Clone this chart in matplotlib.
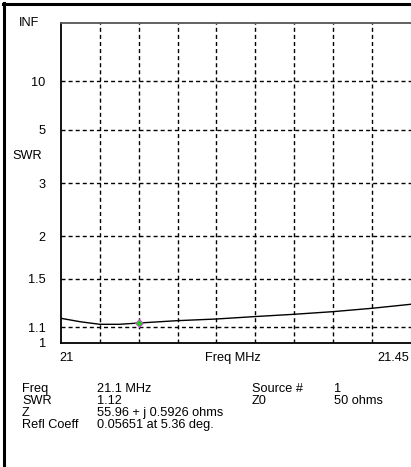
import numpy as np
import matplotlib
matplotlib.use("Agg")
import matplotlib.pyplot as plt
from matplotlib.lines import Line2D

plt.rcParams["font.family"] = ["Liberation Sans", "DejaVu Sans"]
plt.rcParams["font.size"] = 9.2

# 掃頻資料 (MHz, SWR)
freq = [21.0, 21.025, 21.05, 21.075, 21.1, 21.15, 21.2, 21.25, 21.3, 21.35, 21.4, 21.45]
swr = [1.164, 1.139, 1.121, 1.121, 1.13, 1.147, 1.159, 1.177, 1.194, 1.214, 1.240, 1.272]

marker_freq = 21.1
marker_swr = 1.13

swr_ticks = [1, 1.1, 1.5, 2, 3, 5, 10]
swr_tick_labels = ["1", "1.1", "1.5", "2", "3", "5", "10"]
freq_grid = [21.05, 21.1, 21.15, 21.2, 21.25, 21.3, 21.35, 21.4]

info_rows = [("Freq", "21.1 MHz"), ("SWR", "1.12"), ("Z", "55.96 + j 0.5926 ohms"),
             ("Refl Coeff", "0.05651 at 5.36 deg.")]
info_right = [("Source #", "1"), ("Z0", "50 ohms")]


# SWR 軸用反射係數刻度
def rho(s):
    s = np.asarray(s, dtype=float)
    return (s - 1) / (s + 1)


W, H = 411, 467
fig = plt.figure(figsize=(W / 100, H / 100), dpi=100)
ax = fig.add_axes([61 / W, (H - 342.5) / H, (410.5 - 61) / W, 319 / H])

ax.plot(freq, rho(swr), color="black", lw=1.0, zorder=3)
ax.plot([marker_freq], rho([marker_swr]), marker="D", ms=4.5, mfc="#22cc22", mec="#ee33ee",
        mew=0.6, ls="none", zorder=4)

dash = (0, (2.9, 2.2))
for f in freq_grid:
    ax.axvline(f, color="black", lw=1.0, ls=dash, zorder=1)
for s in swr_ticks[1:]:
    ax.axhline(rho(s), color="black", lw=1.0, ls=dash, zorder=1)

ax.set_xlim(21.0, 21.45)
ax.set_ylim(0, 1)
ax.set_xticks([])
ax.set_yticks(rho(swr_ticks))
ax.set_yticklabels(swr_tick_labels)
ax.tick_params(axis="y", length=0, pad=11)

for side in ["left", "bottom"]:
    ax.spines[side].set_linewidth(1.3)
    ax.spines[side].set_color("black")
ax.spines["top"].set_color("#555555")
ax.spines["top"].set_linewidth(1.3)
ax.spines["right"].set_color("#bbbbbb")
ax.spines["right"].set_linewidth(0.8)


def fx(px):
    return px / W


def fy(py):
    return 1 - py / H


fig.text(fx(39), fy(23), "INF", ha="right", va="center")
fig.text(fx(12), fy(156), "SWR", ha="left", va="center")
fig.text(fx(66), fy(358), "21", ha="center", va="center")
fig.text(fx(233), fy(358), "Freq MHz", ha="center", va="center")
fig.text(fx(409), fy(358), "21.45", ha="right", va="center")

for i, (lab, val) in enumerate(info_rows):
    y = 389 + i * 12
    fig.text(fx(22), fy(y), lab, ha="left", va="center")
    fig.text(fx(97), fy(y), val, ha="left", va="center")
for i, (lab, val) in enumerate(info_right):
    y = 389 + i * 12
    fig.text(fx(252), fy(y), lab, ha="left", va="center")
    fig.text(fx(334), fy(y), val, ha="left", va="center")

# 外框 (上、左粗黑線)
fig.add_artist(Line2D([fx(4), fx(4)], [fy(3), fy(467)], color="black", lw=2.2))
fig.add_artist(Line2D([fx(3), fx(411)], [fy(4), fy(4)], color="black", lw=2.2))

fig.savefig("out.png", dpi=100)
